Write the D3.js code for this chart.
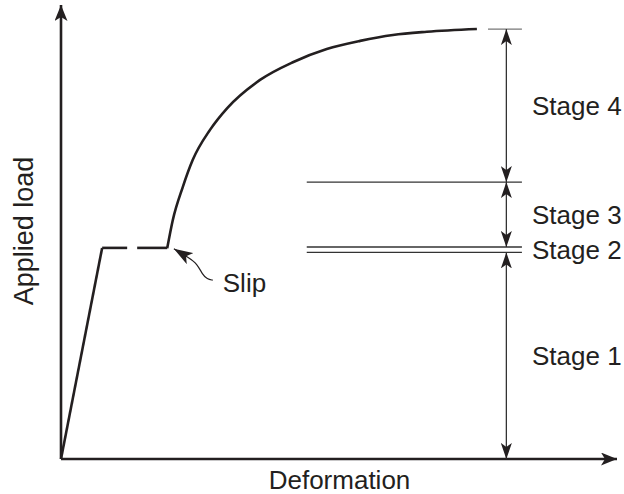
<!DOCTYPE html>
<html>
<head>
<meta charset="utf-8">
<script src="https://cdn.jsdelivr.net/npm/d3@7"></script>
<style>
  html, body { margin: 0; padding: 0; background: #fff; }
  svg { display: block; }
  text { font-family: "Liberation Sans", Arial, Helvetica, sans-serif; fill: #231f20; }
</style>
</head>
<body>
<svg id="chart" width="624" height="494"></svg>
<script>
// ---- data (arbitrary deformation / load units) ----
const elasticX = [0, 0.74];
const elasticY = [0, 4.65];
const slipDash1X = [0.74, 1.19];
const slipDash2X = [1.37, 1.91];
const slipLoad = 4.65;
const hardeningX = [1.91, 2.01, 2.19, 2.37, 2.68, 2.99, 3.58, 4.17, 4.78, 5.38, 5.97, 6.58, 7.48];
const hardeningY = [4.64, 5.26, 5.99, 6.59, 7.25, 7.73, 8.35, 8.74, 9.03, 9.21, 9.34, 9.41, 9.47];
const stageNames = ["Stage 1", "Stage 2", "Stage 3", "Stage 4"];
const stageLow  = [0,    4.55, 4.67, 6.10];
const stageHigh = [4.55, 4.67, 6.10, 9.47];
const refLevels = [9.47, 6.10, 4.67, 4.55];
const refStartX = [7.68, 4.42, 4.42, 4.42];
const refEndX = 8.29;
const dimX = 8.01;
const slipArrowX = [2.73, 2.63, 2.54, 2.45, 2.30];
const slipArrowY = [3.94, 3.96, 4.07, 4.30, 4.43];
const slipTip = [2.03, 4.63];
const slipLabelPos = [2.91, 3.68];
const xLabel = "Deformation";
const yLabel = "Applied load";

// ---- scales ----
const x = d3.scaleLinear().domain([0, 10]).range([61, 617]);
const y = d3.scaleLinear().domain([0, 10]).range([459, 5]);

const svg = d3.select("#chart");
const defs = svg.append("defs");

function marker(id, w, l) {
  defs.append("marker")
    .attr("id", id)
    .attr("markerUnits", "userSpaceOnUse")
    .attr("viewBox", `0 ${-w/2} ${l} ${w}`)
    .attr("refX", l).attr("refY", 0)
    .attr("markerWidth", l).attr("markerHeight", w)
    .attr("orient", "auto-start-reverse")
    .append("path")
    .attr("d", `M0,${-w/2} L${l},0 L0,${w/2} L${l*0.25},0 Z`)
    .attr("fill", "#231f20");
}
marker("axisHead", 13, 16);
marker("dimHead", 11, 16);
marker("slipHead", 13, 19);

// ---- axes ----
svg.append("line")
  .attr("x1", x(0)).attr("y1", y(0)).attr("x2", x(0)).attr("y2", y(10))
  .attr("stroke", "#231f20").attr("stroke-width", 2.6)
  .attr("marker-end", "url(#axisHead)");
svg.append("line")
  .attr("x1", x(0)).attr("y1", y(0)).attr("x2", x(10)).attr("y2", y(0))
  .attr("stroke", "#231f20").attr("stroke-width", 2.6)
  .attr("marker-end", "url(#axisHead)");

// ---- reference lines ----
refLevels.forEach((lv, i) => {
  svg.append("line")
    .attr("x1", x(refStartX[i])).attr("x2", x(refEndX))
    .attr("y1", y(lv)).attr("y2", y(lv))
    .attr("stroke", i === 0 ? "#777" : "#333").attr("stroke-width", 1.3);
});

// ---- curve ----
const lineGen = d3.line().x(d => x(d[0])).y(d => y(d[1]));
const curveStroke = { stroke: "#231f20", "stroke-width": 2.6, fill: "none" };
function styled(sel) { Object.entries(curveStroke).forEach(([k, v]) => sel.attr(k, v)); return sel; }

styled(svg.append("path").attr("d", lineGen(elasticX.map((v, i) => [v, elasticY[i]]))));
styled(svg.append("path").attr("d", lineGen(slipDash1X.map(v => [v, slipLoad]))));
styled(svg.append("path").attr("d", lineGen(slipDash2X.map(v => [v, slipLoad]))));
styled(svg.append("path")
  .attr("d", lineGen.curve(d3.curveMonotoneX)(hardeningX.map((v, i) => [v, hardeningY[i]]))));

// ---- dimension arrows ----
[0, 2, 3].forEach(i => {
  svg.append("line")
    .attr("x1", x(dimX)).attr("x2", x(dimX))
    .attr("y1", y(stageLow[i])).attr("y2", y(stageHigh[i]))
    .attr("stroke", "#333").attr("stroke-width", 1.3)
    .attr("marker-start", "url(#dimHead)")
    .attr("marker-end", "url(#dimHead)");
});

// ---- stage labels ----
stageNames.forEach((s, i) => {
  svg.append("text")
    .attr("x", 532)
    .attr("y", (y(stageLow[i]) + y(stageHigh[i])) / 2)
    .attr("dy", "0.36em")
    .attr("font-size", 26)
    .text(s);
});

// ---- slip annotation ----
const slipPts = slipArrowX.map((v, i) => [x(v), y(slipArrowY[i])]);
slipPts.push([x(slipTip[0]), y(slipTip[1])]);
svg.append("path")
  .attr("d", d3.line().curve(d3.curveBasis)(slipPts))
  .attr("fill", "none").attr("stroke", "#231f20").attr("stroke-width", 1.2)
  .attr("marker-end", "url(#slipHead)");
svg.append("text")
  .attr("x", x(slipLabelPos[0])).attr("y", y(slipLabelPos[1]))
  .attr("font-size", 26).text("Slip");

// ---- axis labels ----
svg.append("text")
  .attr("x", 339.5).attr("y", 489)
  .attr("text-anchor", "middle").attr("font-size", 26)
  .text(xLabel);
svg.append("text")
  .attr("transform", "translate(33,231) rotate(-90)")
  .attr("text-anchor", "middle").attr("font-size", 27)
  .text(yLabel);
</script>
</body>
</html>
